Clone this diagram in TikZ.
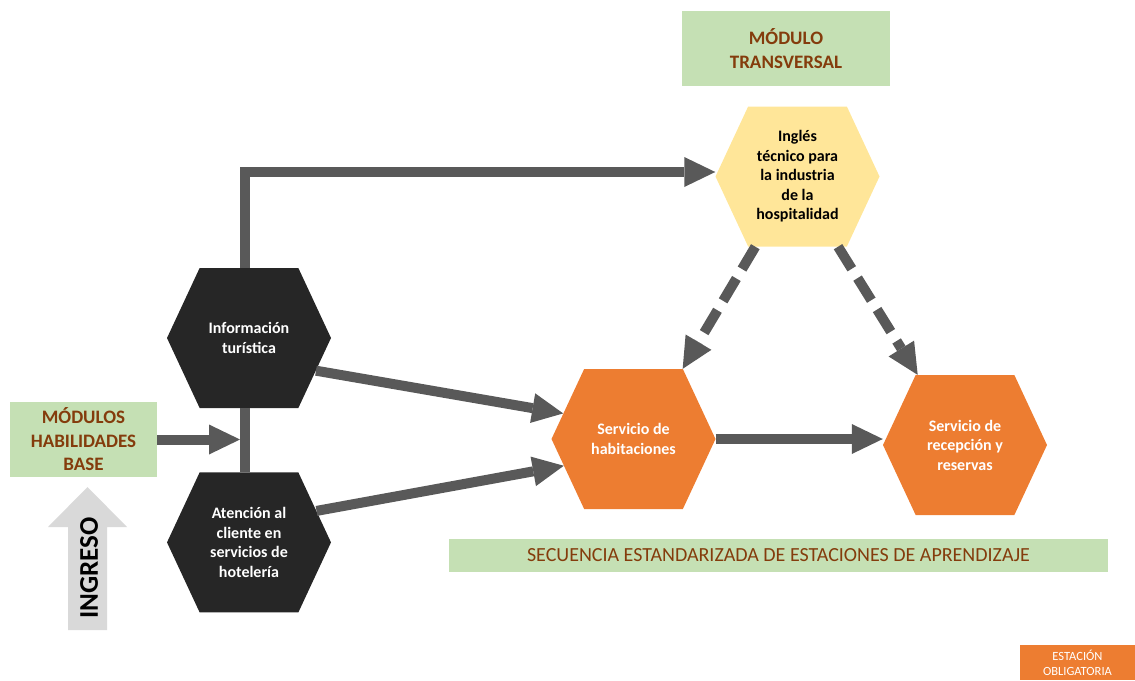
\documentclass[tikz,border=0pt]{standalone}
\usepackage{fontspec}
\setmainfont{Carlito}
\usetikzlibrary{arrows.meta, shapes.symbols, positioning}
\definecolor{darkhex}{HTML}{262626}
\definecolor{orangehex}{HTML}{ED7D31}
\definecolor{yellowhex}{HTML}{FFE699}
\definecolor{greenbox}{HTML}{C5E0B4}
\definecolor{browntext}{HTML}{843C0C}
\definecolor{arrowgrey}{HTML}{595959}
\definecolor{ingresogrey}{HTML}{D9D9D9}
\tikzstyle{station}=[shape=signal, signal to=east and west, signal pointer angle=130, minimum width=164pt, minimum height=140pt, inner sep=0pt, align=center, font=\bfseries\fontsize{16}{19.5}\selectfont]
\tikzstyle{titlebox}=[fill=greenbox, text=browntext, align=center, inner sep=0pt, font=\bfseries\fontsize{19}{23.5}\selectfont]
\newcommand{\station}{\node[station]}

\begin{document}
\begin{tikzpicture}[x=1pt, y=-1pt,
            flow/.style={color=arrowgrey, line width=10pt, -{Triangle[length=31pt,width=30pt,line width=0pt]}},
            link/.style={flow, dash pattern=on 26pt off 11pt}
        ]
            \useasboundingbox (0,0) rectangle (1135,680);
            % boxes
            \node[titlebox, minimum width=208pt, minimum height=75pt] (trans) at (786,48.5) {MÓDULO\\TRANSVERSAL};
            \node[titlebox, minimum width=147pt, minimum height=75pt] (base) at (83.5,439.5) {MÓDULOS\\HABILIDADES\\BASE};
            \node[titlebox, minimum width=659pt, minimum height=33pt, font=\fontsize{20}{24}\selectfont] (seq) at (778.5,555.5) {SECUENCIA ESTANDARIZADA DE ESTACIONES DE APRENDIZAJE};
            \node[fill=orangehex, text=white, align=center, inner sep=0pt, minimum width=115pt, minimum height=35pt, font=\fontsize{12.5}{15}\selectfont] (legend) at (1077.5,662.5) {ESTACIÓN\\OBLIGATORIA};
            % ingreso
            \fill[ingresogrey] (68,630) -- (68,527) -- (48,527) -- (87.5,487) -- (127,527) -- (107,527) -- (107,630) -- cycle;
            \node[rotate=90, font=\bfseries\fontsize{27}{30}\selectfont] (ingreso) at (89,568) {INGRESO};
            % stations
            \station[fill=darkhex, text=white] (info) at (249,338) {Información\\turística};
            \station[fill=darkhex, text=white, below=64pt of info] (att) {Atención al\\cliente en\\servicios de\\hotelería};
            \station[fill=yellowhex, text=black] (ingles) at (797.5,176.5) {Inglés\\técnico para\\la industria\\de la\\hospitalidad};
            \station[fill=orangehex, text=white] (hab) at (633.5,439) {Servicio de\\habitaciones};
            \station[fill=orangehex, text=white] (rec) at (965,445) {Servicio de\\recepción y\\reservas};
            \coordinate (joint) at (240,439.5);
        \draw[arrowgrey, line width=10pt] ([xshift=-4pt]att.north) -- ([xshift=-4pt]info.south);
        \draw[flow] ([xshift=-4pt]info.north) |- ([yshift=4.5pt]ingles.west);
        \path[flow]
                (base) edge (joint)
                (info.-26) edge (hab.160)
                (att.25) edge (hab.-159)
                (hab.east) edge (hab.east -| rec.west)
            ;
        \draw[link] (ingles.-121) -- (hab.55);
        \draw[link] (ingles.-60) -- (rec.124);
        \end{tikzpicture}
\end{document}
